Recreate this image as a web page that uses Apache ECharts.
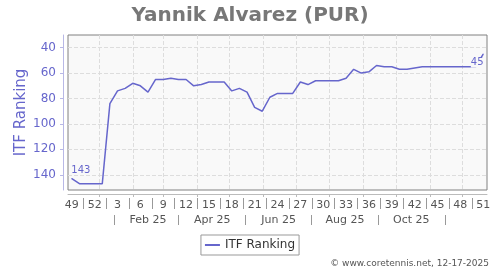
<!DOCTYPE html>
<html>
<head>
<meta charset="utf-8">
<script src="https://cdn.jsdelivr.net/npm/echarts@6/dist/echarts.min.js"></script>
<style>
html,body{margin:0;padding:0;background:#fff;}
#chart{width:500px;height:270px;}
</style>
</head>
<body>
<div id="chart"></div>
<script>
// ISO week numbers of each weekly data point (Dec 2024 .. Dec 2025)
const weeks = [49,50,51,52,1,2,3,4,5,6,7,8,9,10,11,12,13,14,15,16,17,18,19,20,21,22,23,24,25,26,27,28,29,30,31,32,33,34,35,36,37,38,39,40,41,42,43,44,45,46,47,48,49,50,51];
// ITF ranking for each week
const ranking = [143,147,147,147,147,84,74,72,68,70,75,65,65,64,65,65,70,69,67,67,67,74,72,75,87,90,79,76,76,76,67,69,66,66,66,66,64,57,60,59,54,55,55,57,57,56,55,55,55,55,55,55,55,55,45];
const firstWeekDate = '2024-12-07';
const monthStarts = ['2025-01-01','2025-02-01','2025-03-01','2025-04-01','2025-05-01','2025-06-01','2025-07-01','2025-08-01','2025-09-01','2025-10-01','2025-11-01','2025-12-01'];
const periodBounds = ['2025-01-15','2025-03-15','2025-05-15','2025-07-15','2025-09-15','2025-11-15'];
const periodLabelDates = ['2025-02-15','2025-04-15','2025-06-15','2025-08-15','2025-10-15'];
const periodLabels = ['Feb 25','Apr 25','Jun 25','Aug 25','Oct 25'];
const yTicks = [40,60,80,100,120,140];

const DAY = 86400000;
const t0 = Date.parse(firstWeekDate);
// positions in "week index" units so all x axes share one scale
const toIdx = d => (Date.parse(d) - t0) / (7 * DAY);
const labelIdx = weeks.map((w, i) => i).filter(i => i % 3 === 0);
const sepIdx = weeks.map((w, i) => i + 1.5).filter(v => (v - 1.5) % 3 === 0 && v < weeks.length - 1);
const monthIdx = monthStarts.map(toIdx);
const periodBoundIdx = periodBounds.map(toIdx);
const periodLabelIdx = periodLabelDates.map(toIdx);
const xMin = -0.5, xMax = weeks.length - 0.5;

const FONT = 'DejaVu Sans';
const lineColor = '#6666cc';
const last = ranking.length - 1;

const seriesData = ranking.map((v, i) => {
  if (i === 0) {
    return {value: [i, v], symbol: 'circle', symbolSize: 1,
      label: {show: true, position: 'top', distance: 3, offset: [9, 0], formatter: String(v)}};
  }
  if (i === last) {
    return {value: [i, v], symbol: 'circle', symbolSize: 1,
      label: {show: true, position: 'bottom', distance: 3, offset: [-6, 0], formatter: String(v),
        backgroundColor: '#f9f9f9'}};
  }
  return {value: [i, v]};
});

const chart = echarts.init(document.getElementById('chart'), null, {renderer: 'canvas'});
chart.setOption({
  animation: false,
  textStyle: {fontFamily: FONT},
  title: [
    {text: 'Yannik Alvarez (PUR)', left: 'center', top: 1,
      textStyle: {fontFamily: FONT, fontSize: 20, fontWeight: 'bold', color: '#777'}},
    {text: '\u00a9 www.coretennis.net, 12-17-2025', right: 11, top: 259, padding: 0,
      textStyle: {fontFamily: FONT, fontSize: 9, fontWeight: 'normal', color: '#555'}}
  ],
  grid: {left: 68, top: 35, right: 13, bottom: 80, show: true,
    backgroundColor: '#f9f9f9', borderColor: '#808080', borderWidth: 1},
  legend: {
    left: 'center', top: 235, padding: [4, 4], itemWidth: 15, itemHeight: 2, icon: 'rect',
    borderColor: '#999', borderWidth: 1,
    textStyle: {fontFamily: FONT, fontSize: 12, color: '#333'},
    data: ['ITF Ranking']
  },
  xAxis: [
    {
      type: 'value', min: xMin, max: xMax, position: 'bottom', offset: 8,
      axisLine: {show: false, onZero: false},
      axisTick: {show: true, length: 11, customValues: sepIdx, lineStyle: {color: '#999'}},
      axisLabel: {show: true, customValues: labelIdx, margin: 7, verticalAlign: 'middle',
        fontFamily: FONT, fontSize: 11, color: '#555', formatter: v => String(weeks[Math.round(v)])},
      splitLine: {show: false}
    },
    {
      type: 'value', min: xMin, max: xMax, position: 'bottom', offset: 4,
      axisLine: {show: true, onZero: false, lineStyle: {color: '#bbb'}},
      axisTick: {show: true, length: 3, customValues: monthIdx, lineStyle: {color: '#bbb'}},
      axisLabel: {show: false, customValues: monthIdx},
      splitLine: {show: true, lineStyle: {color: '#ddd', type: 'dashed'}}
    },
    {
      type: 'value', min: xMin, max: xMax, position: 'bottom', offset: 25,
      axisLine: {show: false, onZero: false},
      axisTick: {show: true, length: 10, customValues: periodBoundIdx, lineStyle: {color: '#999'}},
      axisLabel: {show: true, customValues: periodLabelIdx, margin: 5, verticalAlign: 'middle',
        fontFamily: FONT, fontSize: 11, color: '#555',
        formatter: v => { let k = 0, best = Infinity; periodLabelIdx.forEach((p, j) => { if (Math.abs(p - v) < best) { best = Math.abs(p - v); k = j; } }); return periodLabels[k]; }},
      splitLine: {show: false}
    }
  ],
  yAxis: {
    type: 'value', inverse: true, min: 30, max: 152, offset: 5,
    name: 'ITF Ranking', nameLocation: 'middle', nameGap: 34, nameMoveOverlap: false,
    nameTextStyle: {fontFamily: FONT, fontSize: 15, color: lineColor},
    axisLine: {show: true, onZero: false, lineStyle: {color: '#b8b8e6'}},
    axisTick: {show: true, length: 3, customValues: yTicks, lineStyle: {color: '#b8b8e6'}},
    axisLabel: {customValues: yTicks, margin: 7, fontFamily: FONT, fontSize: 12, color: lineColor},
    splitLine: {show: true, lineStyle: {color: '#ddd', type: 'dashed'}}
  },
  series: [{
    name: 'ITF Ranking', type: 'line', xAxisIndex: 0, symbol: 'none', showAllSymbol: true,
    lineStyle: {color: lineColor, width: 1.5}, itemStyle: {color: lineColor},
    label: {fontFamily: FONT, fontSize: 10, color: lineColor},
    data: seriesData
  }]
});
</script>
</body>
</html>
